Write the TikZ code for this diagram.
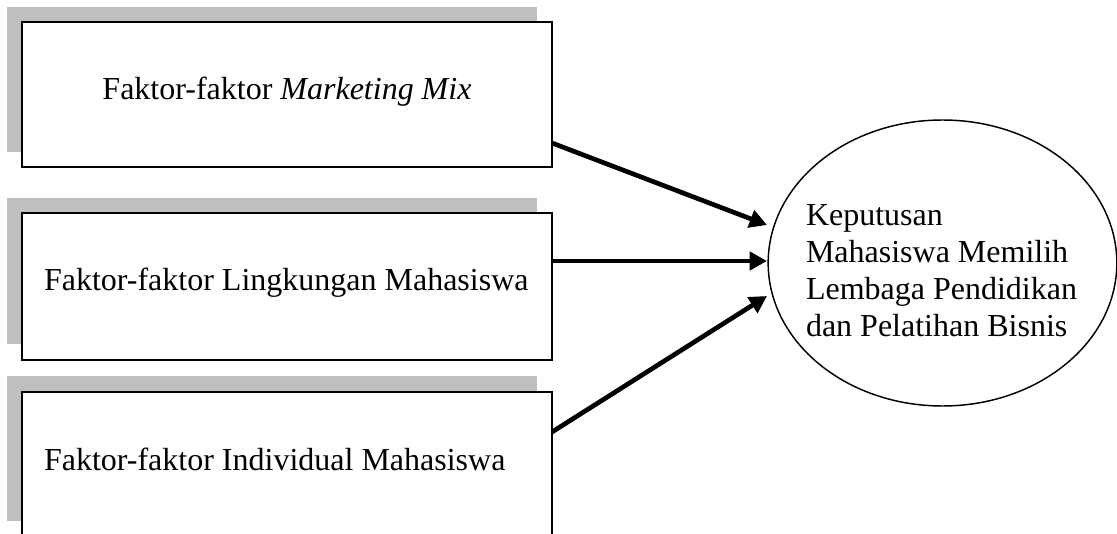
\documentclass[tikz,border=0pt]{standalone}
\usepackage{fontspec}
\setmainfont{Liberation Serif}
\usetikzlibrary{arrows.meta,shapes.geometric}
\definecolor{shadowgray}{RGB}{191,191,191}
\begin{document}
\begin{tikzpicture}[x=0.75pt,y=-0.75pt,
  font=\fontsize{24}{27.75}\selectfont,
  box/.style={draw=black, line width=1.1pt, fill=white, inner sep=0pt, outer sep=0pt,
    minimum width=397.5pt},
  txt/.style={inner sep=0pt, outer sep=0pt},
  arr/.style={line width=3.5pt, -{Triangle[length=13pt,width=13.5pt]}}]
\useasboundingbox (0,0) rectangle (1117,534);
\clip (0,0) rectangle (1117,534);
% shadows
\fill[shadowgray] (7,7) rectangle (537,152);
\fill[shadowgray] (7,198) rectangle (537,344);
\fill[shadowgray] (7,376) rectangle (537,521);
% boxes
\node[box, minimum height=108.75pt] (b1) at (287,94.5) {};
\node[box, minimum height=110.25pt] (b2) at (287,286.5) {};
\node[box, minimum height=110.25pt] (b3) at (287,465.5) {};
% box texts
\node[txt, anchor=base] (l1) at (287,100) {Faktor-faktor \textit{Marketing Mix}};
\node[txt, anchor=base west] (l2) at (44,291) {Faktor-faktor Lingkungan Mahasiswa};
\node[txt, anchor=base west] (l3) at (44,470) {Faktor-faktor Individual Mahasiswa};
% ellipse
\node[draw=black, line width=1.1pt, fill=white, ellipse, inner sep=0pt, outer sep=0pt,
  minimum width=261.5pt, minimum height=214.5pt] (e) at (942.5,263) {};
\node[txt, anchor=west, align=left] (le) at (806,271)
  {Keputusan\\Mahasiswa Memilih\\Lembaga Pendidikan\\dan Pelatihan Bisnis};
% arrow endpoints
\coordinate (s1) at (552,143);
\coordinate (s2) at (552,261);
\coordinate (s3) at (552,432);
\coordinate (t1) at (767,225);
\coordinate (t2) at (767,261);
\coordinate (t3) at (767,296);
\draw[arr] (s1) -- (t1);
\draw[arr] (s2) -- (t2);
\draw[arr] (s3) -- (t3);
\end{tikzpicture}
\end{document}
